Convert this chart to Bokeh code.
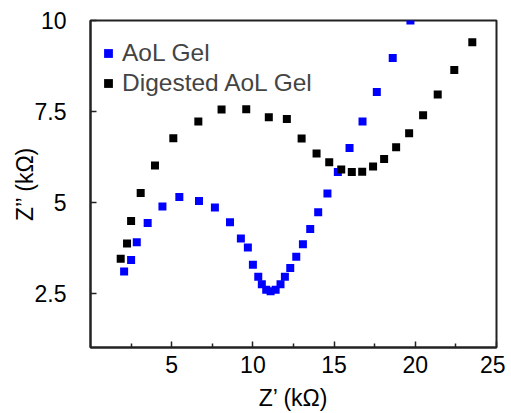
from bokeh.plotting import figure
from bokeh.models import Range1d, FixedTicker, Legend, LegendItem
from bokeh.embed import file_html
from bokeh.resources import INLINE

# Data (kOhm)
aol_x = [2.07, 2.50, 2.85, 3.52, 4.43, 5.47, 6.68, 7.66, 8.59, 9.26, 9.69, 10.00, 10.33, 10.55,
         10.82, 11.09, 11.40, 11.70, 11.97, 12.30, 12.67, 13.08, 13.53, 14.02, 14.59, 15.23,
         15.95, 16.75, 17.63, 18.61, 19.70]
aol_y = [3.09, 3.41, 3.90, 4.43, 4.88, 5.14, 5.03, 4.85, 4.45, 4.00, 3.75, 3.28, 2.95, 2.74,
         2.59, 2.55, 2.59, 2.74, 2.95, 3.19, 3.50, 3.84, 4.26, 4.72, 5.24, 5.83,
         6.49, 7.22, 8.03, 8.97, 10.00]
dig_x = [1.86, 2.25, 2.50, 3.09, 3.97, 5.10, 6.64, 8.07, 9.59, 10.98, 12.09, 13.00, 13.92,
         14.70, 15.44, 16.09, 16.73, 17.40, 18.08, 18.82, 19.62, 20.48, 21.38, 22.40, 23.51]
dig_y = [3.44, 3.86, 4.48, 5.25, 6.01, 6.76, 7.22, 7.55, 7.56, 7.34, 7.29, 6.75, 6.34,
         6.10, 5.90, 5.83, 5.84, 5.98, 6.19, 6.51, 6.90, 7.39, 7.96, 8.64, 9.40]

series_names = ["AoL Gel", "Digested AoL Gel"]
x_ticks = [5, 10, 15, 20, 25]
x_minor = [2.5, 7.5, 12.5, 17.5, 22.5]
y_ticks = [2.5, 5, 7.5, 10]
y_tick_labels = ["2.5", "5", "7.5", "10"]

FONT = "Liberation Sans"

p = figure(width=505, height=413, output_backend="svg", toolbar_location=None,
           x_range=Range1d(0, 25), y_range=Range1d(1, 10),
           min_border_left=90, min_border_right=9, min_border_top=20, min_border_bottom=66)

r1 = p.scatter(aol_x, aol_y, marker="square", size=8, color="#0000ff", line_width=0)
r2 = p.scatter(dig_x, dig_y, marker="square", size=8, color="#000000", line_width=0)

p.grid.visible = False
p.outline_line_color = "#222222"
p.outline_line_width = 2
p.background_fill_color = "white"
p.border_fill_color = "white"

xa = p.xaxis[0]
xa.ticker = FixedTicker(ticks=x_ticks, minor_ticks=x_minor)
xa.axis_label = "Z\u2019 (k\u03a9)"
ya = p.yaxis[0]
ya.ticker = FixedTicker(ticks=y_ticks, minor_ticks=[])
ya.major_label_overrides = {t: l for t, l in zip(y_ticks, y_tick_labels)}
ya.axis_label = "Z\u2019\u2019 (k\u03a9)"

for ax in (xa, ya):
    ax.axis_line_color = "#222222"
    ax.axis_line_width = 2
    ax.major_tick_in = 6
    ax.major_tick_out = 0
    ax.minor_tick_in = 4
    ax.minor_tick_out = 0
    ax.major_tick_line_color = "#222222"
    ax.minor_tick_line_color = "#222222"
    ax.major_tick_line_width = 1.5
    ax.minor_tick_line_width = 1.5
    ax.major_label_text_font = FONT
    ax.major_label_text_font_size = "23px"
    ax.major_label_text_color = "black"
    ax.axis_label_text_font = FONT
    ax.axis_label_text_font_size = "23px"
    ax.axis_label_text_font_style = "normal"
    ax.axis_label_text_color = "black"

xa.major_label_standoff = 8
xa.axis_label_standoff = 9
ya.major_label_text_align = "center"
ya.major_label_standoff = 24
ya.axis_label_standoff = -6

legend = Legend(items=[LegendItem(label=series_names[0], renderers=[r1]),
                       LegendItem(label=series_names[1], renderers=[r2])],
                location=(7, 249), margin=0, padding=0, spacing=0,
                glyph_width=22, glyph_height=22, label_height=30, label_standoff=3,
                label_text_font=FONT, label_text_font_size="24.5px",
                border_line_alpha=0, background_fill_alpha=0)
p.add_layout(legend)

open("out.html", "w").write(file_html(p, INLINE))
